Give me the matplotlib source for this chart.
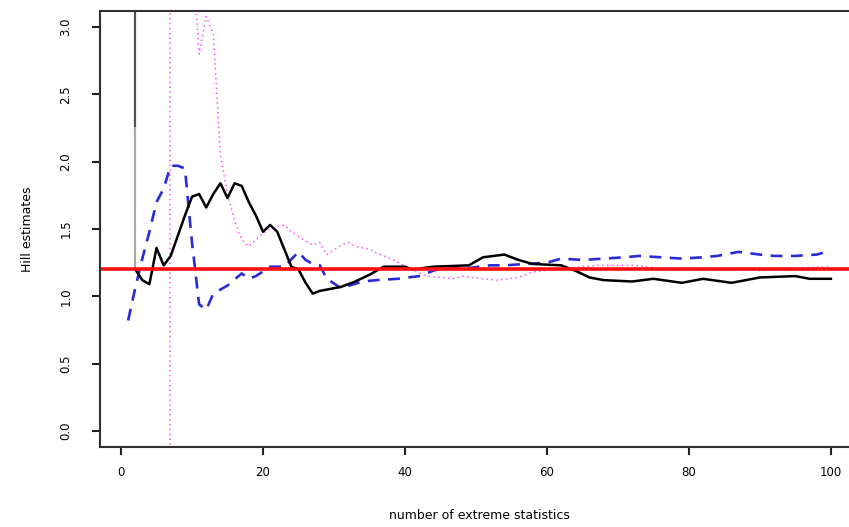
import matplotlib
matplotlib.use("Agg")
import matplotlib.pyplot as plt

# Hill estimator (solid black)
hill_k = [2, 3, 4, 5, 6, 7, 8, 9, 10, 11, 12, 13, 14, 15, 16, 17, 18, 19, 20,
          21, 22, 23, 24, 25, 26, 27, 28, 29, 30, 31, 33, 35, 37, 40, 41, 44,
          49, 51, 54, 56, 58, 62, 64, 66, 68, 72, 75, 79, 82, 86, 90, 95, 97, 100]
hill_y = [1.20, 1.12, 1.09, 1.36, 1.23, 1.30, 1.45, 1.60, 1.74, 1.76, 1.66,
          1.76, 1.84, 1.73, 1.84, 1.82, 1.70, 1.60, 1.48, 1.53, 1.48, 1.35,
          1.22, 1.20, 1.10, 1.02, 1.04, 1.05, 1.06, 1.07, 1.11, 1.16, 1.22,
          1.22, 1.20, 1.22, 1.23, 1.29, 1.31, 1.27, 1.24, 1.23, 1.19, 1.14,
          1.12, 1.11, 1.13, 1.10, 1.13, 1.10, 1.14, 1.15, 1.13, 1.13]

# vertical start of the Hill path at k = 2
spike_k = [2, 2, 2]
spike_y = [1.2, 2.25, 3.3]

# second estimator (blue dashed)
blue_k = [1, 2, 3, 4, 5, 6, 7, 8, 9, 10, 11, 12, 13, 15, 17, 18, 19, 21, 23,
          25, 26, 27, 28, 29, 31, 34, 36, 39, 42, 44, 46, 49, 52, 54, 57, 60,
          62, 65, 68, 71, 73, 76, 79, 82, 84, 87, 90, 92, 95, 98, 100]
blue_y = [0.82, 1.06, 1.28, 1.48, 1.70, 1.80, 1.97, 1.97, 1.95, 1.40, 0.94,
          0.90, 1.02, 1.08, 1.17, 1.13, 1.15, 1.22, 1.22, 1.33, 1.27, 1.24,
          1.23, 1.13, 1.06, 1.11, 1.12, 1.13, 1.15, 1.19, 1.22, 1.21, 1.23,
          1.23, 1.24, 1.25, 1.28, 1.27, 1.28, 1.29, 1.30, 1.29, 1.28, 1.29,
          1.30, 1.33, 1.31, 1.30, 1.30, 1.31, 1.34]

# third estimator (magenta dotted)
mag_k = [6, 7, 8, 9, 10, 11, 12, 13, 14, 15, 16, 17, 18, 19, 20, 21, 23, 24,
         26, 27, 28, 29, 31, 32, 33, 35, 36, 38, 41, 43, 47, 48, 51, 53, 56,
         58, 61, 67, 72, 76, 81, 86, 90, 95, 100]
mag_y = [-900.0, 100.0, 20.0, 8.0, 3.6, 2.80, 3.08, 2.95, 2.05, 1.76, 1.56,
         1.42, 1.37, 1.42, 1.47, 1.50, 1.53, 1.48, 1.41, 1.38, 1.40, 1.31,
         1.38, 1.40, 1.37, 1.35, 1.32, 1.28, 1.20, 1.15, 1.13, 1.15, 1.13,
         1.12, 1.14, 1.18, 1.20, 1.23, 1.23, 1.21, 1.21, 1.21, 1.19, 1.21,
         1.22]

true_value = 1.2

x_ticks = [0, 20, 40, 60, 80, 100]
y_ticks = [0.0, 0.5, 1.0, 1.5, 2.0, 2.5, 3.0]

fig = plt.figure(figsize=(8.49, 5.27), dpi=100)
ax = fig.add_axes([0.1178, 0.1518, 0.894, 0.8273])

ax.plot(spike_k[1:], spike_y[1:], color="#505050", lw=1.6)
ax.plot(spike_k[:2], spike_y[:2], color="#a8a8a8", lw=1.6)
ax.plot(mag_k, mag_y, color="#ff50ff", lw=1.1, linestyle=(0, (1, 2.2)))
ax.plot(blue_k, blue_y, color="#2a2ad8", lw=1.9, linestyle=(0, (4.5, 3.2)))
ax.plot(hill_k, hill_y, color="black", lw=1.8)
ax.axhline(true_value, color="#ff1010", lw=2.6)

ax.set_xlim(-2.96, 103.96)
ax.set_ylim(-0.12, 3.12)
ax.set_xticks(x_ticks)
ax.set_xticklabels([str(v) for v in x_ticks], fontsize=8.5)
ax.set_yticks(y_ticks)
ax.set_yticklabels([f"{v:.1f}" for v in y_ticks], fontsize=8.5,
                   rotation=90, va="center")
ax.tick_params(length=6, width=1.5, color="#202020")
ax.tick_params(axis="x", pad=8)
ax.tick_params(axis="y", pad=14)

ax.spines["right"].set_visible(False)
for side in ["left", "bottom", "top"]:
    ax.spines[side].set_linewidth(1.5)
    ax.spines[side].set_color("#303030")

ax.set_xlabel("number of extreme statistics", fontsize=9, labelpad=21)
ax.set_ylabel("Hill estimates", fontsize=9, labelpad=18)

fig.savefig("out.png", dpi=100)
